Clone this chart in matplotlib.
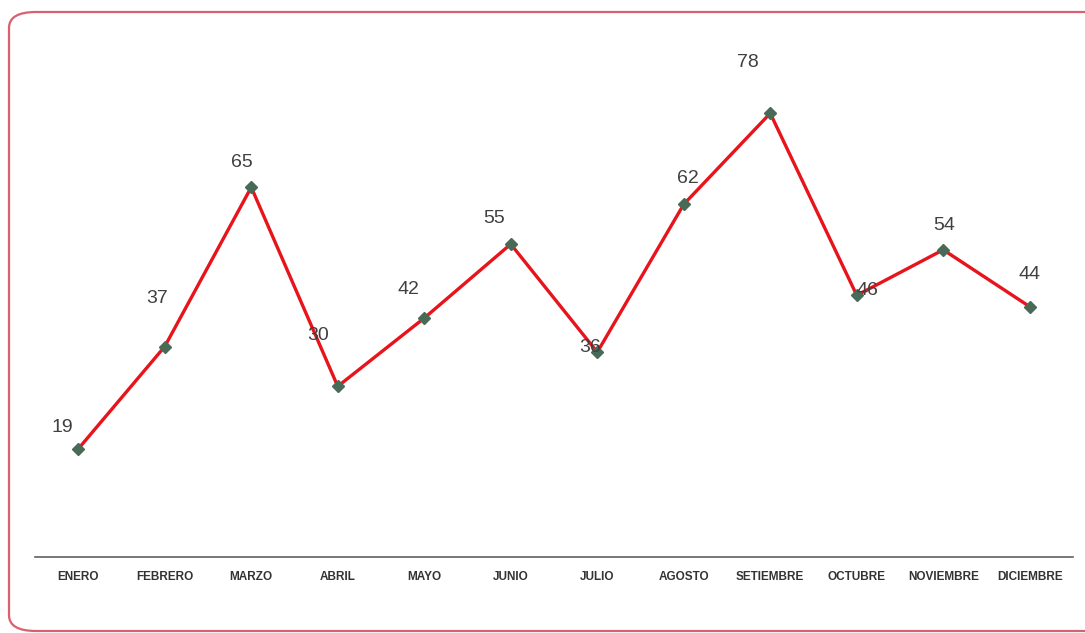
import matplotlib
matplotlib.use('Agg')
import matplotlib.pyplot as plt
from matplotlib.patches import FancyBboxPatch

plt.rcParams['font.family'] = ['Liberation Sans', 'DejaVu Sans']

# datos
meses = ['ENERO', 'FEBRERO', 'MARZO', 'ABRIL', 'MAYO', 'JUNIO', 'JULIO',
         'AGOSTO', 'SETIEMBRE', 'OCTUBRE', 'NOVIEMBRE', 'DICIEMBRE']
valores = [19, 37, 65, 30, 42, 55, 36, 62, 78, 46, 54, 44]

# desplazamiento de las etiquetas (pixeles)
desplaz = [(-16, 21), (-8, 48), (-9, 25), (-20, 51), (-16, 29), (-17, 26),
           (-7, 5), (4, 26), (-22, 51), (11, 5), (1, 24), (0, 32)]

W, H = 1085, 633
fig = plt.figure(figsize=(W / 100, H / 100), dpi=100)

# marco redondeado (el lado derecho queda fuera de la imagen)
marco = FancyBboxPatch((9 / W, (H - 631) / H), (1130 - 9) / W, (631 - 12) / H,
                       boxstyle='round,pad=0,rounding_size=0.025',
                       transform=fig.transFigure, fill=False,
                       edgecolor='#d9606e', linewidth=1.6, zorder=0)
fig.patches.append(marco)

ax = fig.add_axes([35 / W, (H - 557) / H, (1073 - 35) / W, (557 - 45) / H])
x = list(range(len(meses)))
ax.plot(x, valores, color='#e8141c', linewidth=2.4, zorder=2)
ax.plot(x, valores, linestyle='none', marker='D', markersize=6,
        color='#4a6a58', zorder=3)

for xi, v, (dx, dy) in zip(x, valores, desplaz):
    ax.annotate(str(v), (xi, v), xytext=(dx, dy), textcoords='offset pixels',
                ha='center', va='center', fontsize=14, color='#404040')

ax.set_xlim(-0.5, len(meses) - 0.5)
ax.set_ylim(0, 90)
for s in ['top', 'right', 'left']:
    ax.spines[s].set_visible(False)
ax.spines['bottom'].set_color('#606060')
ax.spines['bottom'].set_linewidth(1.2)
ax.set_yticks([])
ax.set_xticks(x)
ax.set_xticklabels(meses, fontsize=8.5, fontweight='bold', color='#333333')
ax.tick_params(axis='x', length=0, pad=10)

fig.savefig('out.png', dpi=100)
